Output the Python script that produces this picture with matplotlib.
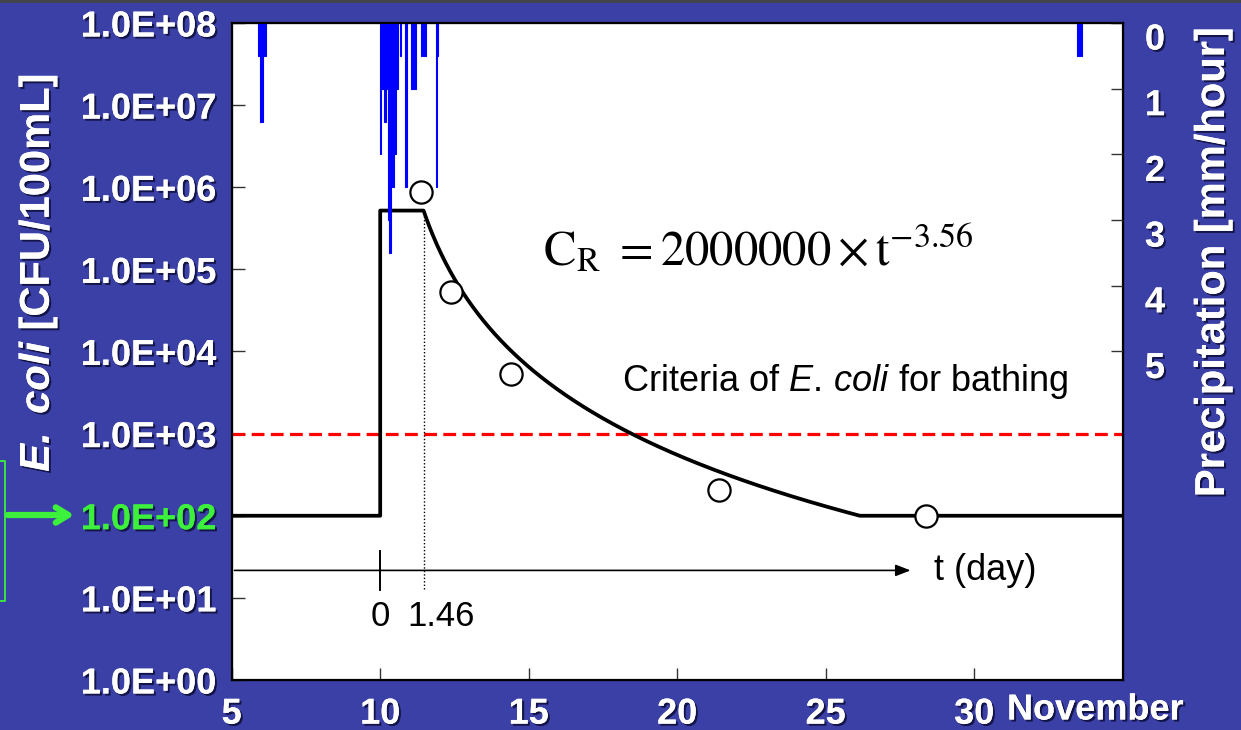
import numpy as np
import matplotlib.pyplot as plt
import matplotlib.patheffects as pe
import matplotlib.transforms as mtransforms
from matplotlib.lines import Line2D

"""
Concentracion de E. coli (modelo y observaciones) con la lluvia horaria arriba
"""

# observaciones (dia de noviembre, CFU/100mL)
obs_day = [11.39, 12.39, 14.41, 21.41, 28.38]
obs_cfu = [8.7e5, 5.3e4, 5.3e3, 2.05e2, 1.0e2]

# modelo C_R = 2000000 * t^-3.56, t en dias desde el dia 10
model_coef = 2000000
model_exp = -3.56
day0 = 10
t_peak = 1.46
baseline = 100
criteria = 1000

# lluvia horaria: horas desde el 5 de noviembre 00:00 y mm/hora
rain_hour = [21, 22, 23, 24, 25, 26, 27,
             120, 121, 122, 123, 124, 125, 126, 127, 128, 129, 130, 131, 132, 133,
             136, 140, 141, 145, 146, 147, 148, 153, 154, 155, 156, 165, 166,
             683, 684, 685, 686]
rain_mm = [0.5, 0.5, 1.5, 1.5, 0.5, 0.5, 0.5,
           2.0, 1.0, 1.0, 1.5, 1.5, 1.0, 3.0, 3.5, 3.5, 2.5, 2.5, 2.0, 2.0, 1.0,
           0.5, 2.5, 2.5, 1.0, 1.0, 1.0, 1.0, 0.5, 0.5, 0.5, 0.5, 2.5, 0.5,
           0.5, 0.5, 0.5, 0.5]

ytick_vals = [1e0, 1e1, 1e2, 1e3, 1e4, 1e5, 1e6, 1e7, 1e8]
ytick_labels = ['1.0E+00', '1.0E+01', '1.0E+02', '1.0E+03', '1.0E+04',
                '1.0E+05', '1.0E+06', '1.0E+07', '1.0E+08']
xtick_vals = [5, 10, 15, 20, 25, 30]
rtick_vals = [0, 1, 2, 3, 4, 5]

plt.rcParams['font.family'] = ['Liberation Sans', 'DejaVu Sans']
plt.rcParams['mathtext.fontset'] = 'custom'
plt.rcParams['mathtext.rm'] = 'Liberation Sans'
plt.rcParams['mathtext.it'] = 'Liberation Sans:italic'
plt.rcParams['mathtext.bf'] = 'Liberation Sans:bold'
plt.rcParams['mathtext.bfit'] = 'Liberation Sans:italic:bold'

fondo = '#3b40a6'
verde = '#3cf03c'
sombra = [pe.withSimplePatchShadow(offset=(1.5, -1.5), shadow_rgbFace='#0a0a30', alpha=0.8), pe.Normal()]

fig = plt.figure(figsize=(12.41, 7.30), dpi=100, facecolor=fondo)
ax = fig.add_axes([0.1867, 0.0685, 0.718, 0.9000])
ax.set_facecolor('white')

# curva del modelo
c_peak = model_coef * t_peak ** model_exp
t_end = (model_coef / baseline) ** (1 / -model_exp)
t = np.linspace(t_peak, t_end, 300)
xs = np.concatenate([[5, day0, day0], day0 + t, [35]])
ys = np.concatenate([[baseline, baseline, c_peak], model_coef * t ** model_exp, [baseline]])
ax.plot(xs, ys, color='black', lw=2.7, zorder=3)

ax.axhline(criteria, color='red', lw=2.3, ls=(0, (4, 2)), zorder=2)
ax.plot(obs_day, obs_cfu, 'o', ms=16, mfc='white', mec='black', mew=1.6, zorder=5)

# eje t
ax.annotate('', xy=(27.95, 21.6), xytext=(5, 21.6),
            arrowprops=dict(arrowstyle='-|>,head_length=0.9,head_width=0.35', color='black', lw=1.2))
ax.plot([day0, day0], [12.3, 37], color='black', lw=1.4)
ax.plot([day0 + t_peak, day0 + t_peak], [13, c_peak], color='black', lw=1, ls=(0, (1, 1.5)))
ax.text(28.65, 21.6, 't (day)', fontsize=26, va='center', ha='left')
ax.text(day0, 5.86, '0', fontsize=25, va='center', ha='center')
ax.text(12.05, 5.86, '1.46', fontsize=25, va='center', ha='center')

ax.text(15.49, 1.13e5, r'$\mathrm{C}_{\mathrm{R}}\ = 2000000\times\mathrm{t}^{-3.56}$',
        fontsize=35, math_fontfamily='stix', ha='left', va='baseline')
ax.text(18.14, 4270, r'Criteria of $\mathit{E.\,coli}$ for bathing', fontsize=26,
        va='center', ha='left')

ax.set_yscale('log')
ax.set_xlim(5, 35)
ax.set_ylim(1, 1e8)
ax.set_yticks(ytick_vals)
ax.set_yticklabels(ytick_labels)
ax.minorticks_off()
ax.set_xticks(xtick_vals)
ax.set_xticklabels([str(v) for v in xtick_vals])
ax.tick_params(direction='in', length=9, width=1, color='#333333')
ax.tick_params(axis='y', pad=11, labelsize=26, labelcolor='white')
ax.tick_params(axis='x', pad=12, labelsize=26, labelcolor='white')
for lab in ax.get_yticklabels() + ax.get_xticklabels():
    lab.set_fontweight('bold')
    lab.set_path_effects(sombra)
ax.get_yticklabels()[2].set_color(verde)
for s in ax.spines.values():
    s.set_linewidth(1.6)

# lluvia, eje derecho invertido
ax2 = ax.twinx()
rain_day = [5 + h / 24 for h in rain_hour]
ax2.bar(rain_day, rain_mm, width=1 / 24, align='edge', color='blue', edgecolor='blue',
        linewidth=0.8, zorder=1)
ax2.set_ylim(10, 0)
ax2.set_xlim(5, 35)
ax2.set_yticks(rtick_vals)
ax2.tick_params(direction='in', length=9, width=1, color='#333333', pad=16, labelsize=26, labelcolor='white')
bajar = mtransforms.ScaledTranslation(0, -0.13, fig.dpi_scale_trans)
for lab in ax2.get_yticklabels():
    lab.set_fontweight('bold')
    lab.set_path_effects(sombra)
    lab.set_transform(lab.get_transform() + bajar)

fig.text(1007 / 1241, 1 - 710 / 730, 'November', fontsize=26, fontweight='bold', color='white',
         ha='left', va='center', path_effects=sombra)
fig.text(0.0306, 0.626, r'$\mathbfit{E.}$ $\mathbfit{coli}$ [CFU/100mL]', fontsize=30, fontweight='bold',
         color='white', rotation=90, ha='center', va='center', path_effects=sombra)
fig.text(0.9774, 0.641, 'Precipitation [mm/hour]', fontsize=30, fontweight='bold',
         color='white', rotation=90, ha='center', va='center', path_effects=sombra)

# flecha y recuadro verdes
fig.add_artist(Line2D([0, 5 / 1241, 5 / 1241, 0], [1 - 461 / 730, 1 - 461 / 730, 1 - 601 / 730, 1 - 601 / 730],
                      color=verde, lw=1.3))
fig.add_artist(Line2D([0, 1], [0.998, 0.998], color='#444444', lw=2))
plt.annotate('', xy=(77 / 1241, 1 - 515 / 730), xytext=(5 / 1241, 1 - 515 / 730),
             xycoords='figure fraction', textcoords='figure fraction',
             arrowprops=dict(arrowstyle='->,head_length=0.9,head_width=0.55', color=verde, lw=4.5))

fig.savefig('out.png', dpi=100, facecolor=fondo)
